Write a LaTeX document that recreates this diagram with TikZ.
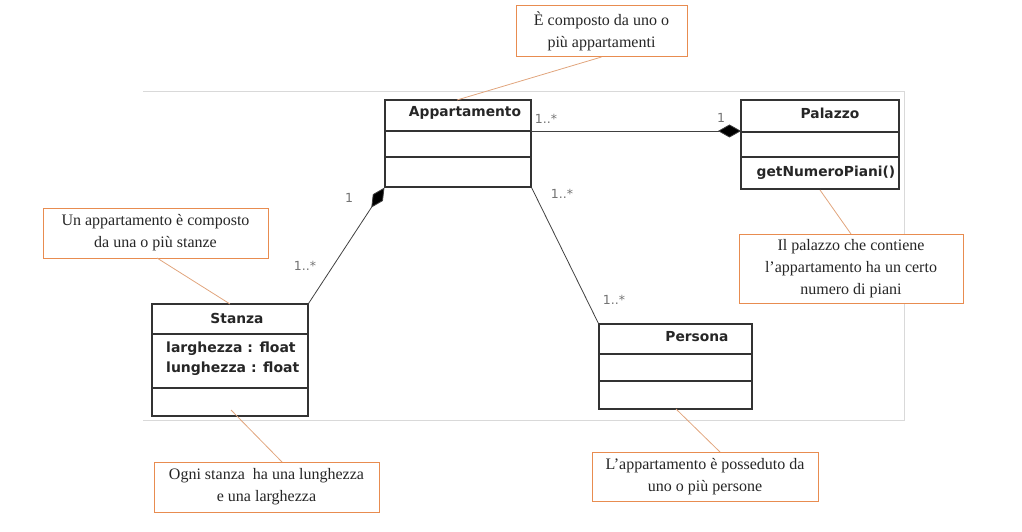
\documentclass[tikz,border=0pt]{standalone}
\usepackage{fontspec}
\setmainfont{Liberation Serif}
\newfontfamily\clsfont{DejaVu Sans}
\usetikzlibrary{arrows.meta,calc}
\definecolor{noteorange}{RGB}{232,140,80}
\definecolor{notelink}{RGB}{225,165,125}
\tikzset{
  cls/.style={draw=black!80, line width=1.1pt, fill=white, inner sep=0pt},
  clstext/.style={font=\clsfont\bfseries\fontsize{13.8}{16}\selectfont, text=black!85, inner sep=0pt},
  attrtext/.style={font=\clsfont\bfseries\fontsize{14}{16}\selectfont, text=black!85, inner sep=0pt, anchor=west},
  mult/.style={font=\clsfont\fontsize{12.5}{14}\selectfont, text=black!55, inner sep=0pt},
  note/.style={draw=noteorange, line width=1pt, fill=white, align=center, inner sep=0pt,
     font=\fontsize{16}{22}\selectfont, text=black!85},
  notelinkstyle/.style={draw=notelink, line width=0.8pt},
  assoc/.style={draw=black!75, line width=0.8pt},
  frame/.style={draw=black!15, line width=0.8pt}
}
\begin{document}
\begin{tikzpicture}[x=1pt,y=-1pt]
\useasboundingbox (0,0) rectangle (1022,532);
% frame
\draw[frame] (143,91) -- (904,91) -- (904,420) -- (143,420);

% classes
\node[cls, minimum width=146pt, minimum height=87pt] (app) at (458,143.5) {};
\draw[cls] (385,131) -- (531,131);
\draw[cls] (385,157) -- (531,157);
\node[clstext] (appt) at (465,113) {Appartamento};

\node[cls, minimum width=158pt, minimum height=89pt] (pal) at (820,144.5) {};
\draw[cls] (741,132) -- (899,132);
\draw[cls] (741,157) -- (899,157);
\node[clstext] (palt) at (830,113) {Palazzo};
\node[clstext] (palm) at (826,173) {getNumeroPiani()};

\node[cls, minimum width=156pt, minimum height=112pt] (sta) at (230,360) {};
\draw[cls] (152,334) -- (308,334);
\draw[cls] (152,388) -- (308,388);
\node[clstext] (stat) at (237,318) {Stanza};
\node[attrtext] (sta1) at (166,349) {larghezza : float};
\node[attrtext] (sta2) at (166,369) {lunghezza : float};

\node[cls, minimum width=153pt, minimum height=85pt] (per) at (675.5,366.5) {};
\draw[cls] (599,354) -- (752,354);
\draw[cls] (599,381) -- (752,381);
\node[clstext] (pert) at (697,337) {Persona};

% associations
\coordinate (appR) at (531,131);
\coordinate (palL) at (741,131);
\draw[assoc, -{Diamond[length=23pt,width=13pt,fill=black]}] (appR) -- (palL);
\node[mult] (m1) at (546,119) {1..*};
\node[mult] (m2) at (721,118) {1};

\draw[assoc, -{Diamond[length=24pt,width=12pt,fill=black]}] (sta.north east) -- (app.south west);
\node[mult] (m3) at (349,198) {1};
\node[mult] (m4) at (305,266) {1..*};

\draw[assoc] (app.south east) -- (per.north west);
\node[mult] (m5) at (562,194) {1..*};
\node[mult] (m6) at (614,300) {1..*};

% notes
\node[note, minimum width=171pt, minimum height=51pt] (n1) at (601.5,31) {È composto da uno o\\più appartamenti};
\draw[notelinkstyle] (n1.south) -- (457,100);

\node[note, minimum width=225pt, minimum height=50pt] (n2) at (155.5,233) {Un appartamento è composto\\da una o più stanze};
\draw[notelinkstyle] (157,258) -- (230,304);

\node[note, minimum width=224pt, minimum height=69pt] (n3) at (851,269) {Il palazzo che contiene\\l’appartamento ha un certo\\numero di piani};
\draw[notelinkstyle] (820,190) -- (n3.north);

\node[note, minimum width=225pt, minimum height=50pt] (n4) at (266.5,487) {Ogni stanza\ \ ha una lunghezza\\e una larghezza};
\draw[notelinkstyle] (231,410) -- (282,462);

\node[note, minimum width=226pt, minimum height=49pt] (n5) at (705,476.5) {L’appartamento è posseduto da\\uno o più persone};
\draw[notelinkstyle] (676,409) -- (720,452);
\end{tikzpicture}
\end{document}
